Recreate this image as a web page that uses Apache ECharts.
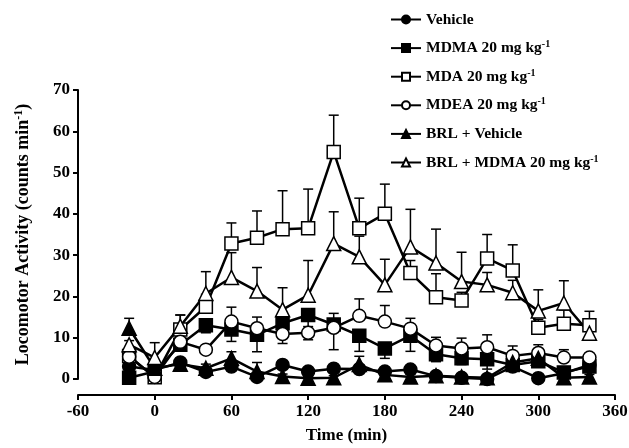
<!DOCTYPE html>
<html>
<head>
<meta charset="utf-8">
<script src="https://cdn.jsdelivr.net/npm/echarts@6/dist/echarts.min.js"></script>
<style>
  html, body { margin: 0; padding: 0; background: #fff; }
  #chart { width: 629px; height: 448px; }
</style>
</head>
<body>
<div id="chart"></div>
<script>
// time points (min)
const times = [-20, 0, 20, 40, 60, 80, 100, 120, 140, 160, 180, 200, 220, 240, 260, 280, 300, 320, 340];

// means (counts/min)
const vehicle  = [3.0, 2.2, 4.0, 1.7, 3.0, 0.5, 3.4, 1.8, 2.5, 2.4, 1.8, 2.3, 0.7, 0.3, 0.0, 3.0, 0.2, 1.4, 3.4];
const mdma     = [0.3, 1.8, 8.3, 13.0, 12.0, 10.7, 13.5, 15.5, 13.2, 10.5, 7.4, 10.5, 6.0, 5.0, 4.8, 3.4, 4.3, 1.6, 3.0];
const mda      = [5.6, 0.4, 12.0, 17.5, 32.8, 34.2, 36.3, 36.5, 55.0, 36.5, 40.0, 25.7, 19.8, 19.0, 29.2, 26.3, 12.4, 13.4, 13.0];
const mdea     = [5.4, 0.5, 9.0, 7.1, 13.9, 12.3, 10.9, 11.2, 12.4, 15.3, 13.9, 12.2, 8.1, 7.4, 7.7, 5.6, 6.3, 5.2, 5.2];
const brlVeh   = [12.3, 2.6, 3.6, 2.6, 5.0, 1.8, 0.6, 0.2, 0.3, 3.5, 1.0, 0.5, 0.8, 0.5, 0.3, 4.0, 5.0, 0.3, 0.5];
const brlMdma  = [8.3, 5.2, 12.8, 20.7, 24.6, 21.3, 16.8, 20.3, 32.8, 29.6, 22.8, 32.0, 28.1, 23.6, 22.8, 20.9, 16.5, 18.4, 11.1];

// SEM, signed: + drawn upward, - drawn downward (as in the figure)
const vehicleErr = [1.0, 1.0, 0.8, 0.8, 1.0, 1.0, 1.0, 0.8, 0.8, 1.0, 1.0, 0.8, 0.8, 0.8, 0.8, 1.0, 0.8, 0.8, 1.0];
const mdmaErr    = [-1.0, -1.0, -1.5, -1.8, -2.9, -4.1, -4.9, -6.0, -6.1, -3.8, -2.4, -3.8, -1.8, -1.5, -2.4, -1.0, -1.0, -1.0, -1.0];
const mdaErr     = [1.0, 1.0, 3.5, 3.0, 5.0, 6.5, 9.3, 9.5, 8.9, 7.3, 7.2, 3.0, 5.7, 2.0, 5.8, 6.2, 2.0, 3.3, 3.4];
const mdeaErr    = [1.0, 1.0, 1.5, 1.0, 3.5, 2.7, 1.5, 1.5, 3.5, 4.1, 3.9, 2.5, 2.0, 2.5, 3.0, 2.4, 2.0, 1.9, 1.0];
const brlVehErr  = [2.4, 1.0, 1.0, 1.0, 1.6, 2.2, 0.6, 0.5, 0.5, 2.0, 1.0, 0.8, 0.6, 0.6, 0.6, 1.0, 1.0, 0.6, 0.6];
const brlMdmaErr = [1.0, 3.6, 2.7, 5.3, 6.0, 5.7, 5.3, 8.4, 7.7, 5.0, 6.2, 9.1, 8.2, 7.1, 3.0, 3.0, 5.1, 5.4, 1.0];

const xTicks = { min: -60, max: 360, step: 60 };
const yTicks = { min: 0, max: 70, step: 10 };

const FONT = '"Liberation Serif", "Times New Roman", serif';

// legend labels with superscript
const labels = {
  'Vehicle': 'Vehicle',
  'MDMA 20 mg kg-1': 'MDMA 20 mg kg{s|-1}',
  'MDA 20 mg kg-1': 'MDA 20 mg kg{s|-1}',
  'MDEA 20 mg kg-1': 'MDEA 20 mg kg{s|-1}',
  'BRL + Vehicle': 'BRL + Vehicle',
  'BRL + MDMA 20 mg kg-1': 'BRL + MDMA 20 mg kg{s|-1}'
};

const groups = [
  { name: 'Vehicle', vals: vehicle, err: vehicleErr, symbol: 'circle', open: false },
  { name: 'MDMA 20 mg kg-1', vals: mdma, err: mdmaErr, symbol: 'rect', open: false },
  { name: 'MDA 20 mg kg-1', vals: mda, err: mdaErr, symbol: 'rect', open: true },
  { name: 'MDEA 20 mg kg-1', vals: mdea, err: mdeaErr, symbol: 'circle', open: true },
  { name: 'BRL + Vehicle', vals: brlVeh, err: brlVehErr, symbol: 'triangle', open: false },
  { name: 'BRL + MDMA 20 mg kg-1', vals: brlMdma, err: brlMdmaErr, symbol: 'triangle', open: true }
];

// 误差线：竖线 + 横帽
function renderErr(params, api) {
  const x = api.value(0), y = api.value(1), e = api.value(2);
  const p0 = api.coord([x, y]);
  const p1 = api.coord([x, y + e]);
  const st = { stroke: '#000', lineWidth: 1.5 };
  return {
    type: 'group',
    children: [
      { type: 'line', shape: { x1: p0[0], y1: p0[1], x2: p1[0], y2: p1[1] }, style: st },
      { type: 'line', shape: { x1: p1[0] - 5, y1: p1[1], x2: p1[0] + 5, y2: p1[1] }, style: st }
    ]
  };
}

const series = [];
groups.forEach(g => {
  series.push({
    type: 'custom',
    name: g.name + ' err',
    renderItem: renderErr,
    data: times.map((t, i) => [t, g.vals[i], g.err[i]]),
    encode: { x: 0, y: 1 },
    z: 1,
    silent: true
  });
});
groups.forEach(g => {
  const size = g.symbol === 'triangle' ? 14 : 13;
  series.push({
    type: 'line',
    name: g.name,
    data: times.map((t, i) => [t, g.vals[i]]),
    symbol: g.symbol,
    symbolSize: size,
    showAllSymbol: true,
    lineStyle: { color: '#000', width: 2.5 },
    itemStyle: {
      color: g.open ? '#fff' : '#000',
      borderColor: '#000',
      borderWidth: 1.5,
      opacity: 1
    },
    z: 2
  });
});

const chart = echarts.init(document.getElementById('chart'), null, { renderer: 'canvas' });
chart.setOption({
  animation: false,
  backgroundColor: '#fff',
  grid: { left: 78, right: 14, top: 90, bottom: 69, outerBoundsMode: 'none' },
  legend: {
    data: groups.map(g => g.name),
    orient: 'vertical',
    left: 385,
    top: 6,
    itemWidth: 30,
    itemHeight: 10,
    itemGap: 11.6,
    selectedMode: false,
    formatter: name => labels[name],
    textStyle: {
      color: '#000',
      fontFamily: FONT,
      fontWeight: 'bold',
      fontSize: 15.5,
      lineHeight: 17,
      rich: {
        s: { fontFamily: FONT, fontWeight: 'bold', fontSize: 10, verticalAlign: 'top', lineHeight: 17, color: '#000' }
      }
    }
  },
  xAxis: {
    type: 'value',
    min: xTicks.min,
    max: xTicks.max,
    interval: xTicks.step,
    offset: 16,
    name: 'Time (min)',
    nameLocation: 'middle',
    nameGap: 32,
    nameTextStyle: { color: '#000', fontFamily: FONT, fontWeight: 'bold', fontSize: 17 },
    axisLine: { onZero: false, lineStyle: { color: '#000', width: 2 } },
    axisTick: { length: 5, lineStyle: { color: '#000', width: 2 } },
    axisLabel: { color: '#000', fontFamily: FONT, fontWeight: 'bold', fontSize: 17, margin: 8 },
    splitLine: { show: false }
  },
  yAxis: {
    type: 'value',
    min: yTicks.min,
    max: yTicks.max,
    interval: yTicks.step,
    name: 'Locomotor Activity (counts min{s|-1})',
    nameLocation: 'middle',
    nameRotate: 90,
    nameGap: 45,
    nameTextStyle: {
      color: '#000', fontFamily: FONT, fontWeight: 'bold', fontSize: 18, lineHeight: 20,
      rich: { s: { fontFamily: FONT, fontWeight: 'bold', fontSize: 12, verticalAlign: 'top', lineHeight: 20, color: '#000' } }
    },
    axisLine: { show: true, onZero: false, lineStyle: { color: '#000', width: 2 } },
    axisTick: { show: true, length: 5, lineStyle: { color: '#000', width: 2 } },
    axisLabel: { color: '#000', fontFamily: FONT, fontWeight: 'bold', fontSize: 17, margin: 8 },
    splitLine: { show: false }
  },
  series: series
});
</script>
</body>
</html>
